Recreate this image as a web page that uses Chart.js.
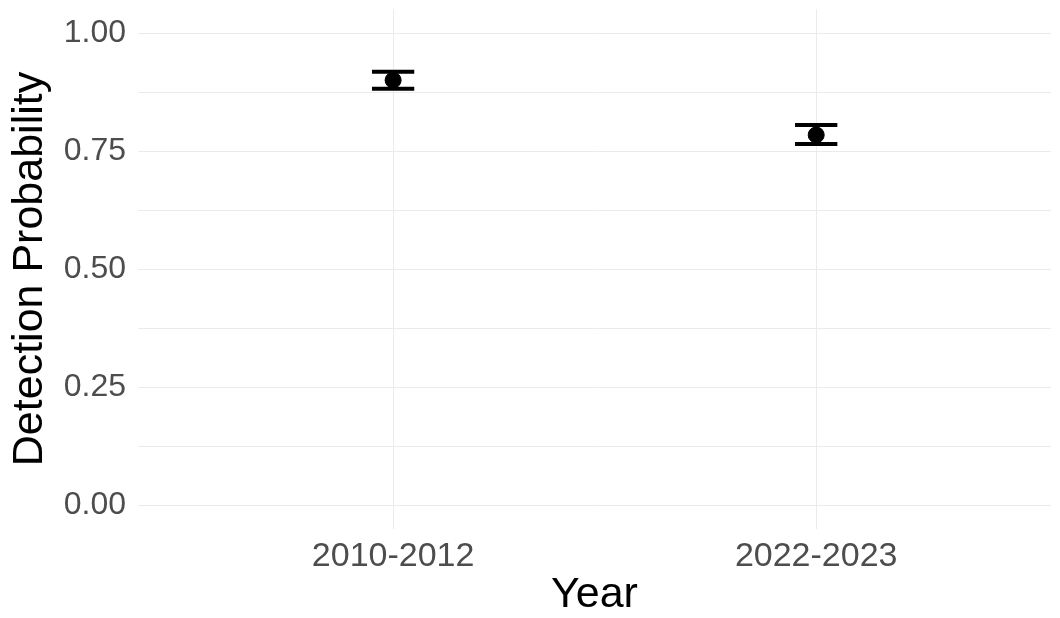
<!DOCTYPE html>
<html>
<head>
<meta charset="utf-8">
<script src="https://cdn.jsdelivr.net/npm/chart.js@4/dist/chart.umd.min.js"></script>
<style>
  html, body { margin: 0; padding: 0; background: #fff; }
  #wrap { width: 1060px; height: 618px; position: relative; }
</style>
</head>
<body>
<div id="wrap"><canvas id="chart"></canvas></div>
<script>
const periods = ['2010-2012', '2022-2023'];
const estimate = [0.900, 0.784];
const lower = [0.882, 0.765];
const upper = [0.918, 0.805];

const yBreaks = [0, 0.125, 0.25, 0.375, 0.5, 0.625, 0.75, 0.875, 1];
const yLabelled = [0, 0.25, 0.5, 0.75, 1];

const FONT = '"Liberation Sans", Arial, sans-serif';
const GRID = '#ebebeb';

// whiskers with end caps, drawn under the points
const errorBars = {
  id: 'errorBars',
  beforeDatasetsDraw(chart) {
    const { ctx, scales: { x, y } } = chart;
    const capHalf = 0.05;
    ctx.save();
    ctx.strokeStyle = '#000';
    ctx.lineWidth = 4;
    ctx.lineCap = 'butt';
    periods.forEach((p, i) => {
      const px = x.getPixelForValue(i + 1);
      const x0 = x.getPixelForValue(i + 1 - capHalf);
      const x1 = x.getPixelForValue(i + 1 + capHalf);
      const yLo = y.getPixelForValue(lower[i]);
      const yHi = y.getPixelForValue(upper[i]);
      ctx.beginPath();
      ctx.moveTo(px, yLo); ctx.lineTo(px, yHi);
      ctx.moveTo(x0, yLo); ctx.lineTo(x1, yLo);
      ctx.moveTo(x0, yHi); ctx.lineTo(x1, yHi);
      ctx.stroke();
    });
    ctx.restore();
  }
};

new Chart(document.getElementById('chart'), {
  type: 'scatter',
  data: {
    datasets: [{
      data: estimate.map((v, i) => ({ x: i + 1, y: v })),
      backgroundColor: '#000',
      borderColor: '#000',
      pointRadius: 8,
      pointHoverRadius: 8
    }]
  },
  options: {
    responsive: true,
    maintainAspectRatio: false,
    animation: false,
    layout: { padding: { top: 9.4, right: 0, left: 0, bottom: 0 } },
    plugins: { legend: { display: false }, tooltip: { enabled: false } },
    scales: {
      x: {
        type: 'linear',
        min: 0.397,
        max: 2.555,
        afterBuildTicks(s) { s.ticks = periods.map((_, i) => ({ value: i + 1 })); },
        afterFit(s) {
          s.height = 89.4;
          s.paddingLeft = 0;
          s.paddingRight = 0;
        },
        ticks: {
          callback: (v) => periods[v - 1],
          color: '#4d4d4d',
          font: { family: FONT, size: 34 },
          padding: 8,
          maxRotation: 0
        },
        grid: { color: GRID, lineWidth: 1, drawTicks: false },
        border: { display: false },
        title: {
          display: true,
          text: 'Year',
          color: '#000',
          font: { family: FONT, size: 43 },
          padding: { top: 0, bottom: -3 }
        }
      },
      y: {
        min: -0.05,
        max: 1.05,
        afterBuildTicks(s) { s.ticks = yBreaks.map(v => ({ value: v })); },
        afterFit(s) {
          s.width = 138;
          s.paddingTop = 0;
          s.paddingBottom = 0;
        },
        ticks: {
          autoSkip: false,
          callback: (v) => yLabelled.includes(v) ? v.toFixed(2) : '',
          color: '#4d4d4d',
          font: { family: FONT, size: 32 },
          padding: 12
        },
        grid: { color: GRID, lineWidth: 1, drawTicks: false },
        border: { display: false },
        title: {
          display: true,
          text: 'Detection Probability',
          color: '#000',
          font: { family: FONT, size: 43 },
          padding: { top: 4, bottom: 0 }
        }
      }
    }
  },
  plugins: [errorBars]
});
</script>
</body>
</html>
